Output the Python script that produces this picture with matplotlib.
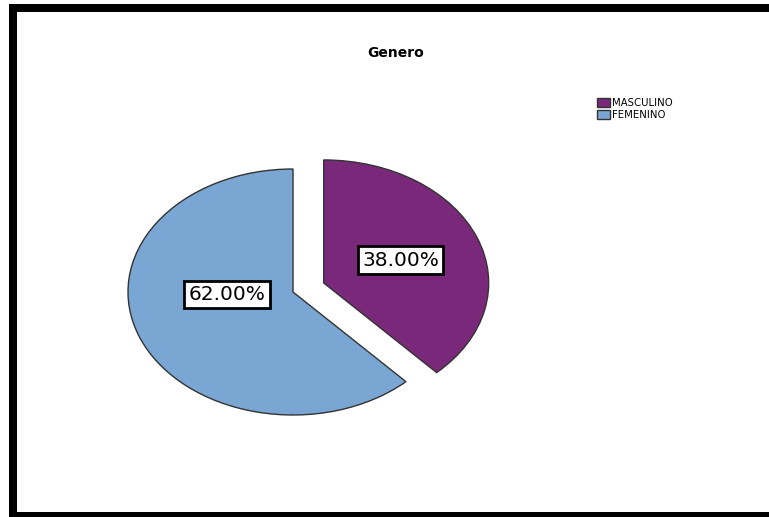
import matplotlib
matplotlib.use('Agg')
import matplotlib.pyplot as plt
from matplotlib.patches import Rectangle

# Datos
categorias = ['MASCULINO', 'FEMENINO']
porcentajes = [38.0, 62.0]
colores = ['#7a287a', '#7aa6d4']
titulo = 'Genero'

W, H = 769, 517
fig = plt.figure(figsize=(W/100, H/100), dpi=100)
fig.patch.set_facecolor('white')
fig.patch.set_edgecolor('white')
fig.patch.set_linewidth(0)

# marco negro (arriba, izquierda, abajo)
for x0, y0, w, h in [(9, 4, W-9, 8), (9, 4, 8, H-4), (9, 512, W-9, H-512)]:
    fig.add_artist(Rectangle((x0/W, 1-(y0+h)/H), w/W, h/H,
                             transform=fig.transFigure, facecolor='black',
                             edgecolor='none', linewidth=0))

# eje del pastel (elipse)
cx, cy, rx, ry = 293, 292, 165, 123
ax = fig.add_axes([(cx-rx)/W, (H-cy-ry)/H, 2*rx/W, 2*ry/H])
wedges, texts, autotexts = ax.pie(
    porcentajes, colors=colores, startangle=90, counterclock=False,
    explode=[0.2, 0], autopct='%.2f%%', pctdistance=0.5,
    wedgeprops=dict(edgecolor='#333333', linewidth=1),
    textprops=dict(fontsize=14.5, family='DejaVu Sans'))
ax.set_aspect('auto')
ax.set_xlim(-1, 1)
ax.set_ylim(-1, 1)
ax.axis('off')
for w in wedges:
    w.set_clip_on(False)
autotexts[1].set_position((-0.40, -0.02))
for t in autotexts:
    t.set_bbox(dict(boxstyle='square,pad=0.22', facecolor='white',
                    edgecolor='black', linewidth=2))
    t.set_clip_on(False)

fig.text(396/W, 1-53/H, titulo, ha='center', va='center', fontsize=10,
         fontweight='bold', family='DejaVu Sans')

fig.legend(wedges, categorias, loc='upper left',
           bbox_to_anchor=(597/W, 1-98/H), frameon=False,
           prop=dict(family='DejaVu Sans', size=7.3),
           handlelength=1.3, handleheight=1.0, handletextpad=0.15,
           labelspacing=0.15, borderpad=0, borderaxespad=0)

fig.savefig('out.png', dpi=100)
